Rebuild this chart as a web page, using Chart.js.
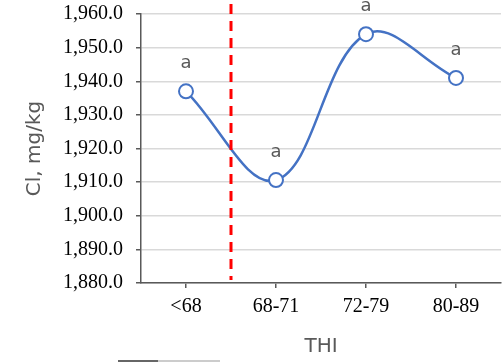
<!DOCTYPE html>
<html>
<head>
<meta charset="utf-8">
<script src="https://cdn.jsdelivr.net/npm/chart.js@4"></script>
<style>
  body { margin: 0; background: #fff; }
  canvas { display: block; }
</style>
</head>
<body>
<canvas id="myChart" width="503" height="362"></canvas>
<script>
const categories = ['<68', '68-71', '72-79', '80-89'];
const clValues = [1937.0, 1910.6, 1954.0, 1941.0];
const letters = ['a', 'a', 'a', 'a'];
const yMin = 1880;
const yMax = 1960;
const yStep = 10;

// red dashed divider between first and second category, plus "a" letters
const extras = {
    id: 'extras',
    afterDatasetsDraw(chart) {
        const c = chart.ctx;
        const area = chart.chartArea;
        const x = chart.scales.x;
        const meta = chart.getDatasetMeta(0);

        c.save();
        c.fillStyle = '#595959';
        c.font = '18px "DejaVu Sans"';
        c.textAlign = 'center';
        c.textBaseline = 'middle';
        meta.data.forEach((pt, i) => {
            c.fillText(letters[i], pt.x, pt.y - 28);
        });

        const xd = (x.getPixelForValue(0) + x.getPixelForValue(1)) / 2;
        c.strokeStyle = '#ff0000';
        c.lineWidth = 3;
        c.setLineDash([10, 7]);
        c.beginPath();
        c.moveTo(xd, area.top - 10);
        c.lineTo(xd, area.bottom - 3);
        c.stroke();

        // cut-off legend stub at the bottom edge
        c.setLineDash([]);
        c.lineWidth = 1.5;
        c.strokeStyle = '#333';
        c.beginPath();
        c.moveTo(118, 361);
        c.lineTo(158, 361);
        c.stroke();
        c.strokeStyle = '#bbb';
        c.beginPath();
        c.moveTo(158, 361);
        c.lineTo(220, 361);
        c.stroke();
        c.restore();
    }
};

const ctx = document.getElementById('myChart');

new Chart(ctx, {
    type: 'line',
    data: {
        labels: categories,
        datasets: [{
            data: clValues,
            borderColor: '#4472C4',
            borderWidth: 2.5,
            tension: 0.38,
            pointRadius: 7,
            pointBorderWidth: 2,
            pointBackgroundColor: '#fff',
            pointBorderColor: '#4472C4'
        }]
    },
    options: {
        responsive: false,
        animation: false,
        layout: { autoPadding: false, padding: { top: 14, right: 2, left: 0, bottom: 0 } },
        plugins: {
            legend: { display: false },
            tooltip: { enabled: false }
        },
        scales: {
            x: {
                offset: true,
                afterFit: s => { s.height = 79; s.paddingLeft = 0; s.paddingRight = 0; },
                grid: {
                    drawOnChartArea: false,
                    tickLength: 5,
                    color: '#595959',
                    lineWidth: 1.5
                },
                border: { color: '#595959', width: 1.5 },
                ticks: {
                    color: '#000',
                    padding: 7,
                    font: { family: '"Liberation Serif"', size: 20 }
                },
                title: {
                    display: true,
                    text: 'THI',
                    color: '#595959',
                    font: { family: '"DejaVu Sans"', size: 20 },
                    padding: { top: 16, bottom: 3 }
                }
            },
            y: {
                min: yMin,
                max: yMax,
                afterFit: s => { s.width = 141; s.paddingTop = 0; s.paddingBottom = 0; },
                grid: {
                    color: '#d9d9d9',
                    lineWidth: 1.5,
                    tickLength: 5,
                    tickColor: '#595959'
                },
                border: { color: '#595959', width: 1.5 },
                ticks: {
                    stepSize: yStep,
                    color: '#000',
                    padding: 13,
                    font: { family: '"Liberation Serif"', size: 20 },
                    callback: v => v.toLocaleString('en-US', { minimumFractionDigits: 1, maximumFractionDigits: 1 })
                },
                title: {
                    display: true,
                    text: 'Cl, mg/kg',
                    color: '#595959',
                    font: { family: '"DejaVu Sans"', size: 20 },
                    padding: { top: 23, bottom: 0 }
                }
            }
        }
    },
    plugins: [extras]
});
</script>
</body>
</html>
